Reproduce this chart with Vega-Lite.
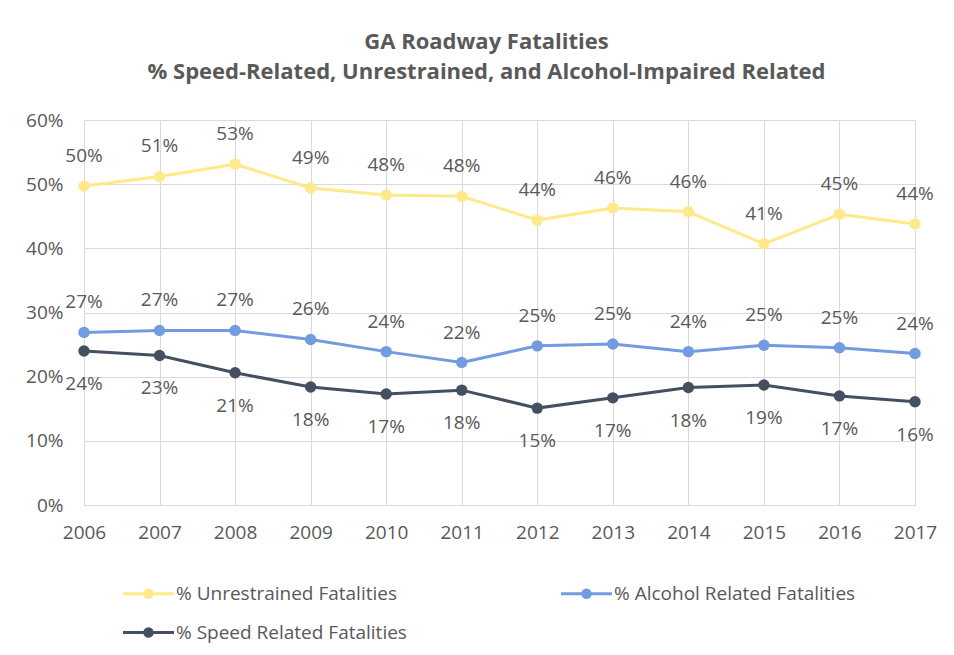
{
  "$schema": "https://vega.github.io/schema/vega-lite/v6.json",
  "width": 831,
  "height": 385,
  "autosize": {"type": "none"},
  "padding": {"left": 84, "top": 120, "right": 39, "bottom": 150},
  "background": "white",
  "title": {
    "text": ["GA Roadway Fatalities", "% Speed-Related, Unrestrained, and Alcohol-Impaired Related"],
    "anchor": "middle",
    "frame": "group",
    "font": "Open Sans",
    "fontSize": 22,
    "fontWeight": "bold",
    "color": "#595959",
    "lineHeight": 30,
    "offset": 27,
    "dx": -13
  },
  "data": {
    "values": [
      {"year": 2006, "series": "% Unrestrained Fatalities", "value": 0.497, "pos": "above"},
      {"year": 2007, "series": "% Unrestrained Fatalities", "value": 0.512, "pos": "above"},
      {"year": 2008, "series": "% Unrestrained Fatalities", "value": 0.531, "pos": "above"},
      {"year": 2009, "series": "% Unrestrained Fatalities", "value": 0.494, "pos": "above"},
      {"year": 2010, "series": "% Unrestrained Fatalities", "value": 0.483, "pos": "above"},
      {"year": 2011, "series": "% Unrestrained Fatalities", "value": 0.481, "pos": "above"},
      {"year": 2012, "series": "% Unrestrained Fatalities", "value": 0.444, "pos": "above"},
      {"year": 2013, "series": "% Unrestrained Fatalities", "value": 0.463, "pos": "above"},
      {"year": 2014, "series": "% Unrestrained Fatalities", "value": 0.457, "pos": "above"},
      {"year": 2015, "series": "% Unrestrained Fatalities", "value": 0.407, "pos": "above"},
      {"year": 2016, "series": "% Unrestrained Fatalities", "value": 0.453, "pos": "above"},
      {"year": 2017, "series": "% Unrestrained Fatalities", "value": 0.438, "pos": "above"},
      {"year": 2006, "series": "% Alcohol Related Fatalities", "value": 0.269, "pos": "above"},
      {"year": 2007, "series": "% Alcohol Related Fatalities", "value": 0.272, "pos": "above"},
      {"year": 2008, "series": "% Alcohol Related Fatalities", "value": 0.272, "pos": "above"},
      {"year": 2009, "series": "% Alcohol Related Fatalities", "value": 0.258, "pos": "above"},
      {"year": 2010, "series": "% Alcohol Related Fatalities", "value": 0.239, "pos": "above"},
      {"year": 2011, "series": "% Alcohol Related Fatalities", "value": 0.222, "pos": "above"},
      {"year": 2012, "series": "% Alcohol Related Fatalities", "value": 0.248, "pos": "above"},
      {"year": 2013, "series": "% Alcohol Related Fatalities", "value": 0.251, "pos": "above"},
      {"year": 2014, "series": "% Alcohol Related Fatalities", "value": 0.239, "pos": "above"},
      {"year": 2015, "series": "% Alcohol Related Fatalities", "value": 0.249, "pos": "above"},
      {"year": 2016, "series": "% Alcohol Related Fatalities", "value": 0.245, "pos": "above"},
      {"year": 2017, "series": "% Alcohol Related Fatalities", "value": 0.236, "pos": "above"},
      {"year": 2006, "series": "% Speed Related Fatalities", "value": 0.240, "pos": "below"},
      {"year": 2007, "series": "% Speed Related Fatalities", "value": 0.233, "pos": "below"},
      {"year": 2008, "series": "% Speed Related Fatalities", "value": 0.206, "pos": "below"},
      {"year": 2009, "series": "% Speed Related Fatalities", "value": 0.184, "pos": "below"},
      {"year": 2010, "series": "% Speed Related Fatalities", "value": 0.173, "pos": "below"},
      {"year": 2011, "series": "% Speed Related Fatalities", "value": 0.179, "pos": "below"},
      {"year": 2012, "series": "% Speed Related Fatalities", "value": 0.151, "pos": "below"},
      {"year": 2013, "series": "% Speed Related Fatalities", "value": 0.167, "pos": "below"},
      {"year": 2014, "series": "% Speed Related Fatalities", "value": 0.183, "pos": "below"},
      {"year": 2015, "series": "% Speed Related Fatalities", "value": 0.187, "pos": "below"},
      {"year": 2016, "series": "% Speed Related Fatalities", "value": 0.170, "pos": "below"},
      {"year": 2017, "series": "% Speed Related Fatalities", "value": 0.161, "pos": "below"}
    ]
  },
  "encoding": {
    "x": {
      "field": "year",
      "type": "quantitative",
      "scale": {"domain": [2006, 2017], "nice": false, "zero": false},
      "axis": {
        "title": null,
        "format": "d",
        "values": [2006, 2007, 2008, 2009, 2010, 2011, 2012, 2013, 2014, 2015, 2016, 2017],
        "labelFlush": false,
        "labelOverlap": false,
        "grid": true,
        "gridColor": "#d9d9d9",
        "domain": true,
        "domainColor": "#d9d9d9",
        "ticks": false,
        "labelPadding": 18,
        "labelFont": "Open Sans",
        "labelFontSize": 19,
        "labelColor": "#595959"
      }
    },
    "y": {
      "field": "value",
      "type": "quantitative",
      "scale": {"domain": [0, 0.6], "nice": false},
      "axis": {
        "title": null,
        "format": ".0%",
        "values": [0, 0.1, 0.2, 0.3, 0.4, 0.5, 0.6],
        "grid": true,
        "gridColor": "#d9d9d9",
        "domain": false,
        "ticks": false,
        "labelPadding": 21,
        "labelFont": "Open Sans",
        "labelFontSize": 19,
        "labelColor": "#595959"
      }
    },
    "color": {
      "field": "series",
      "type": "nominal",
      "scale": {
        "domain": ["% Unrestrained Fatalities", "% Alcohol Related Fatalities", "% Speed Related Fatalities"],
        "range": ["#FFE98A", "#729BE0", "#44505F"]
      },
      "legend": {
        "title": null,
        "orient": "none",
        "legendX": 48,
        "legendY": 457,
        "direction": "horizontal",
        "columns": 2,
        "columnPadding": 148,
        "rowPadding": 12,
        "symbolType": "M-1.7,0H1.7M0.25,0A0.25,0.25,0,1,1,-0.25,0A0.25,0.25,0,1,1,0.25,0Z",
        "symbolSize": 900,
        "symbolStrokeWidth": 3,
        "labelFont": "Open Sans",
        "labelFontSize": 19,
        "labelColor": "#595959",
        "labelOffset": 11,
        "labelLimit": 400,
        "encode": {
          "symbols": {
            "update": {
              "fill": {"scale": "color", "field": "value"},
              "stroke": {"scale": "color", "field": "value"},
              "fillOpacity": {"value": 1},
              "strokeWidth": {"value": 3}
            }
          }
        }
      }
    }
  },
  "layer": [
    {"mark": {"type": "line", "strokeWidth": 3}},
    {"mark": {"type": "point", "filled": true, "size": 130, "opacity": 1}},
    {
      "transform": [{"filter": "datum.pos == 'above'"}],
      "mark": {"type": "text", "dy": -30, "font": "Open Sans", "fontSize": 19},
      "encoding": {
        "text": {"field": "value", "type": "quantitative", "format": ".0%"},
        "color": {"value": "#595959"}
      }
    },
    {
      "transform": [{"filter": "datum.pos == 'below'"}],
      "mark": {"type": "text", "dy": 33, "font": "Open Sans", "fontSize": 19},
      "encoding": {
        "text": {"field": "value", "type": "quantitative", "format": ".0%"},
        "color": {"value": "#595959"}
      }
    }
  ],
  "config": {"view": {"stroke": null}}
}
